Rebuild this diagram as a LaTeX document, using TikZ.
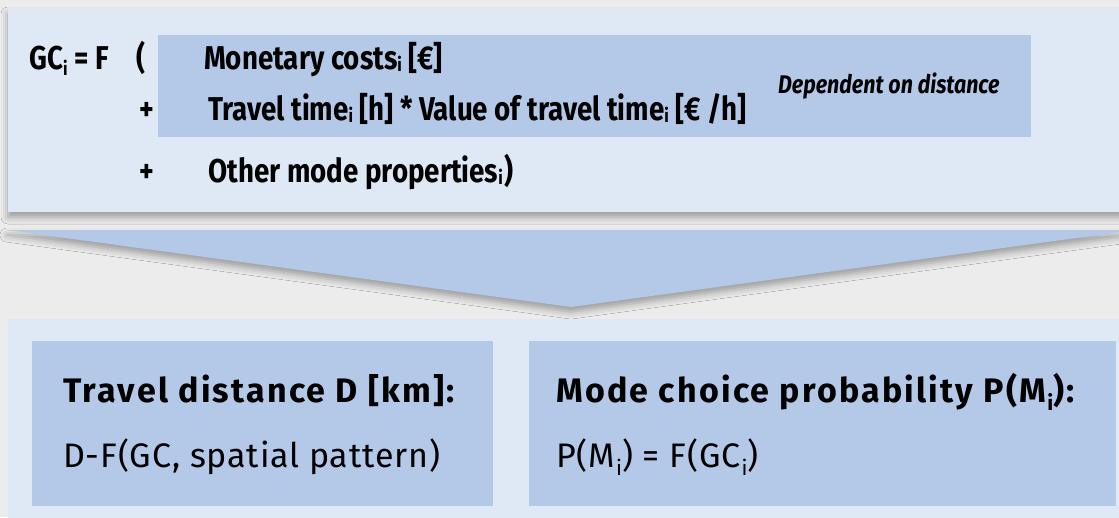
\documentclass[tikz,border=0pt]{standalone}
\usepackage{fontspec}
\setsansfont{Fira Sans}
\newfontfamily\condfont[FakeStretch=0.84]{Fira Sans}
\newfontfamily\headfont[LetterSpace=6.5]{Fira Sans}
\newfontfamily\bodyfont[LetterSpace=2.5]{Fira Sans}
\usetikzlibrary{positioning,shadows.blur}

\definecolor{bggray}{RGB}{236,236,236}
\definecolor{panelblue}{RGB}{223,232,245}
\definecolor{boxblue}{RGB}{180,200,232}

% small index letter, size and drop
\newcommand{\idx}[2]{\raisebox{#2}{\fontsize{#1}{#1}\selectfont i}}

\begin{document}
\begin{tikzpicture}[x=1pt, y=-1pt,
panel/.style={fill=panelblue, draw=none},
box/.style={fill=boxblue, draw=none},
formula/.style={font=\condfont\bfseries\fontsize{33}{38}\selectfont, inner sep=0pt, anchor=base west},
note/.style={font=\condfont\bfseries\itshape\fontsize{25.5}{30}\selectfont, inner sep=0pt, anchor=base west},
head/.style={font=\headfont\bfseries\fontsize{34}{40}\selectfont, inner sep=0pt, anchor=base west},
body/.style={font=\bodyfont\fontsize{34}{40}\selectfont, inner sep=0pt, anchor=base west},
softshadow/.style={blur shadow={shadow xshift=0pt, shadow yshift=-5pt, shadow blur radius=7pt, shadow opacity=35}},
]

\fill[bggray] (0,0) rectangle (1119,517);
\useasboundingbox (0,0) rectangle (1119,517);

% generalised costs
\fill[panel, softshadow] (8,9) rectangle (1135,212);
\fill[box] (158,35) rectangle (1031,137);

\node[formula] (gc) at (29,69) {GC\idx{19}{-6pt} = F\hspace{0.85em}(};
\node[formula] (cost) at (204,69) {Monetary costs\idx{19}{-2pt} [€]};
\node[formula] (plus1) at (139,120) {+};
\node[formula] (time) at (208,120) {Travel time\idx{19}{-2pt} [h] * Value of travel time\idx{19}{-2pt} [€ /h]};
\node[formula] (plus2) at (139,182) {+};
\node[formula] (other) at (208,182) {Other mode properties\idx{19}{-2pt}\kern2pt)};
\node[note] (dist) at (778,93) {Dependent on distance};

% arrow
\fill[boxblue, softshadow] (7,230) -- (1135,230) -- (571,307) -- cycle;

% results
\fill[panel] (8,319) rectangle (1135,530);
\fill[box] (32,341) rectangle (493,506);
\fill[box] (529,341) rectangle (1116,506);

\node[head] (dhead) at (63,402) {Travel distance D [km]:};
\node[body] (dbody) at (63,467) {D-F(GC, spatial pattern)};
\node[head] (mhead) at (556,402) {Mode choice probability P(M\kern1pt\idx{21}{-8pt}):};
\node[body] (mbody) at (556,467) {P(M\kern1pt\idx{21}{-8pt}) = F(GC\kern1pt\idx{21}{-8pt})};

\end{tikzpicture}
\end{document}
